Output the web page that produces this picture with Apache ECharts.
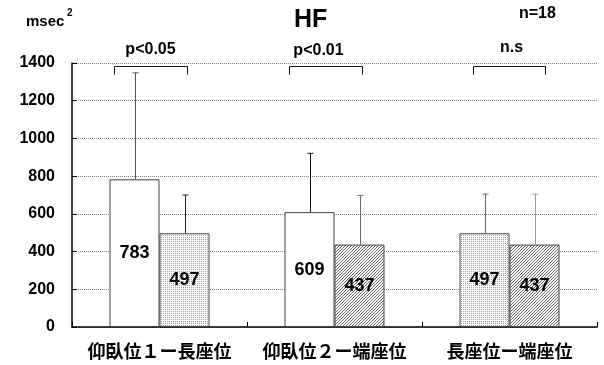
<!DOCTYPE html>
<html><head><meta charset="utf-8">
<script src="https://cdn.jsdelivr.net/npm/echarts@6/dist/echarts.min.js"></script>
<style>html,body{margin:0;padding:0;background:#fff}#c{width:604px;height:365px}</style>
</head><body><div id="c"></div>
<script>
// ---- data ----
const categories = ['仰臥位１ー長座位', '仰臥位２ー端座位', '長座位ー端座位'];
const leftValues = [783, 609, 497];
const rightValues = [497, 437, 437];
const leftSD = [565, 312, 208];
const rightSD = [203, 261, 267];
const bracketLabels = ['p<0.05', 'p<0.01', 'n.s'];
const yMin = 0, yMax = 1400, yStep = 200;
const bracketValue = 1384;

// ---- styles ----
const BAR_W = 50;
function makePattern(kind) {
  const c = document.createElement('canvas');
  const ctx = c.getContext('2d');
  if (kind === 'dots') {
    c.width = 2; c.height = 2;
    ctx.fillStyle = '#fff'; ctx.fillRect(0, 0, 2, 2);
    ctx.fillStyle = '#a0a0a0'; ctx.fillRect(1, 1, 1, 1);
  } else {
    c.width = 3; c.height = 3;
    ctx.fillStyle = '#fff'; ctx.fillRect(0, 0, 3, 3);
    ctx.fillStyle = '#666';
    ctx.fillRect(0, 2, 1, 1); ctx.fillRect(1, 1, 1, 1); ctx.fillRect(2, 0, 1, 1);
  }
  return { image: c, repeat: 'repeat' };
}
const fills = { white: '#fff', dots: makePattern('dots'), hatch: makePattern('hatch') };
const leftFill = ['white', 'white', 'dots'];
const rightFill = ['dots', 'hatch', 'hatch'];
const leftErrColor = ['#555', '#111', '#666'];
const rightErrColor = ['#222', '#666', '#999'];
// bracket geometry relative to category centre (px)
const bracketGeom = [
  { l: -45.5, r: 27.5, t: -9, ty: -16 },
  { l: -45.5, r: 27.5, t: -16, ty: -15 },
  { l: -37, r: 35, t: 2, ty: -18 }
];
const FONT = 'Liberation Sans, Arial, sans-serif';

const labelStyle = {
  show: true, position: 'inside', fontSize: 18, fontWeight: 'bold',
  color: '#000', fontFamily: FONT
};

function barData(values, fillKeys) {
  return values.map((v, i) => ({ value: v, itemStyle: { color: fills[fillKeys[i]] } }));
}

function errSeries(values, sds, side, colors) {
  return {
    type: 'custom', z: 3,
    data: values.map((v, i) => [i, v, sds[i]]),
    renderItem: function (params, api) {
      const i = api.value(0), m = api.value(1), sd = api.value(2);
      const base = api.coord([i, m]);
      const top = api.coord([i, m + sd]);
      const x = Math.round(base[0] + side * BAR_W / 2) + 0.5;
      const c = colors[i];
      return {
        type: 'group', children: [
          { type: 'line', shape: { x1: x, y1: base[1], x2: x, y2: top[1] }, style: { stroke: c, lineWidth: 1 } },
          { type: 'line', shape: { x1: x - 3, y1: top[1], x2: x + 3, y2: top[1] }, style: { stroke: c, lineWidth: 1 } }
        ]
      };
    }
  };
}

const option = {
  animation: false,
  backgroundColor: '#fff',
  grid: { left: 72, right: 7, top: 63, bottom: 38 },
  graphic: [
    { type: 'text', left: 294, top: 8, style: { text: 'HF', fontSize: 25, fontWeight: 'bold', fill: '#000', fontFamily: FONT } },
    { type: 'text', left: 519, top: 6, style: { text: 'n=18', fontSize: 16, fontWeight: 'bold', fill: '#000', letterSpacing: 1, fontFamily: FONT } },
    { type: 'text', left: 26, top: 14, style: { text: 'msec', fontSize: 15, fontWeight: 'bold', fill: '#000', letterSpacing: 0.8, fontFamily: FONT } },
    { type: 'text', left: 67, top: 8, style: { text: '2', fontSize: 10, fontWeight: 'bold', fill: '#000', fontFamily: FONT } }
  ],
  xAxis: {
    type: 'category', data: categories,
    axisLine: { lineStyle: { color: '#000', width: 1.5 } },
    axisTick: { show: true, inside: true, length: 5, interval: 0, lineStyle: { color: '#000' } },
    axisLabel: { margin: 15, fontSize: 18, fontWeight: 'bold', color: '#000', fontFamily: 'Noto Sans CJK JP', interval: 0, letterSpacing: 1.5 },
    splitLine: { show: false }
  },
  yAxis: {
    type: 'value', min: yMin, max: yMax, interval: yStep,
    axisLine: { show: true, lineStyle: { color: '#000', width: 1.5 } },
    axisTick: { show: true, inside: true, length: 5, lineStyle: { color: '#000' } },
    axisLabel: { margin: 17, fontSize: 16, fontWeight: 'bold', color: '#000', letterSpacing: 0.8, fontFamily: FONT, formatter: v => String(v) },
    splitLine: { show: true, lineStyle: { type: 'dotted', color: '#888', width: 1 } }
  },
  series: [
    {
      type: 'bar', barWidth: BAR_W, barGap: '0%',
      data: barData(leftValues, leftFill),
      itemStyle: { borderColor: '#444', borderWidth: 1 },
      label: labelStyle
    },
    {
      type: 'bar', barWidth: BAR_W, barGap: '0%',
      data: barData(rightValues, rightFill),
      itemStyle: { borderColor: '#444', borderWidth: 1 },
      label: labelStyle
    },
    errSeries(leftValues, leftSD, -1, leftErrColor),
    errSeries(rightValues, rightSD, 1, rightErrColor),
    {
      type: 'custom', z: 4,
      data: bracketLabels.map((t, i) => [i, bracketValue]),
      renderItem: function (params, api) {
        const i = api.value(0);
        const p = api.coord([i, api.value(1)]);
        const g = bracketGeom[i];
        const y = Math.round(p[1]) + 0.5;
        const x1 = Math.round(p[0] + g.l) + 0.5, x2 = Math.round(p[0] + g.r) + 0.5;
        return {
          type: 'group', children: [
            { type: 'polyline', shape: { points: [[x1, y + 8], [x1, y], [x2, y], [x2, y + 8]] }, style: { stroke: '#111', lineWidth: 1, fill: null } },
            { type: 'text', x: p[0] + g.t, y: p[1] + g.ty, style: { text: bracketLabels[i], align: 'center', verticalAlign: 'middle', fontSize: 16, fontWeight: 'bold', fill: '#000', letterSpacing: 1.5, fontFamily: FONT } }
          ]
        };
      }
    }
  ]
};
const chart = echarts.init(document.getElementById('c'), null, { renderer: 'canvas' });
chart.setOption(option);
</script>
</body></html>
